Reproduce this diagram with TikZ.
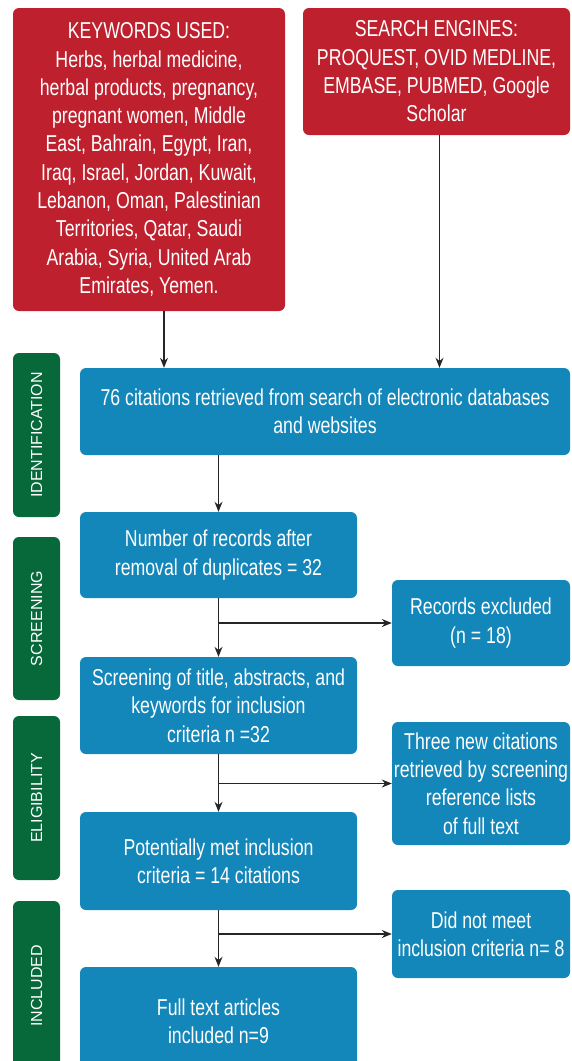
\documentclass[tikz,border=0pt]{standalone}
\usepackage{fontspec}
\setmainfont[FakeStretch=0.77]{Liberation Sans}
\newfontfamily\sidefont{Liberation Sans}
\usetikzlibrary{arrows.meta}

\definecolor{keyred}{HTML}{BE202E}
\definecolor{stepblue}{HTML}{1386BA}
\definecolor{stagegreen}{HTML}{07683A}

\begin{document}
\begin{tikzpicture}[
    x=1pt, y=-1pt,
    box/.style={
      rectangle,
      rounded corners=6pt,
      inner sep=0pt,
      text=white,
      align=center,
      font=\fontsize{23}{28.3}\selectfont
    },
    redbox/.style={box, fill=keyred},
    bluebox/.style={box, fill=stepblue},
    stage/.style={
      rectangle,
      rounded corners=6pt,
      fill=stagegreen,
      text=white,
      rotate=90,
      inner sep=0pt,
      minimum height=47pt,
      font=\sidefont\fontsize{16}{19}\selectfont
    },
    link/.style={draw=black!85, line width=1.2pt},
    >={Stealth[length=10pt,width=8pt]}
  ]

    \useasboundingbox (0,0) rectangle (572,1061);

    % sources
    \node[redbox, minimum width=272pt, minimum height=303pt] (kw) at (149, 159.5)
      {KEYWORDS USED:\\ Herbs, herbal medicine,\\ herbal products, pregnancy,\\
       pregnant women, Middle\\ East, Bahrain, Egypt, Iran,\\ Iraq, Israel, Jordan, Kuwait,\\
       Lebanon, Oman, Palestinian\\ Territories, Qatar, Saudi\\ Arabia, Syria, United Arab\\
       Emirates, Yemen.};
    \node[redbox, minimum width=267pt, minimum height=127pt] (se) at (436.5, 71.5)
      {SEARCH ENGINES:\\ PROQUEST, OVID MEDLINE,\\ EMBASE, PUBMED, Google\\ Scholar};

    % main column
    \node[bluebox, minimum width=490pt, minimum height=87pt] (ident) at (325, 411.5)
      {76 citations retrieved from search of electronic databases\\ and websites};
    \node[bluebox, minimum width=277pt, minimum height=86pt] (dup) at (218.5, 555)
      {Number of records after\\ removal of duplicates = 32};
    \node[bluebox, minimum width=277pt, minimum height=97pt] (scr) at (218.5, 705.5)
      {Screening of title, abstracts, and\\ keywords for inclusion\\ criteria n =32};
    \node[bluebox, minimum width=277pt, minimum height=98pt] (pot) at (218.5, 861)
      {Potentially met inclusion\\ criteria = 14 citations};
    \node[bluebox, minimum width=277pt, minimum height=108pt] (full) at (218.5, 1021)
      {Full text articles\\ included n=9};

    % side column
    \node[bluebox, minimum width=178pt, minimum height=86pt] (excl) at (481, 623)
      {Records excluded\\ (n = 18)};
    \node[bluebox, minimum width=178pt, minimum height=123pt] (new) at (481, 783.5)
      {Three new citations\\ retrieved by screening\\ reference lists\\ of full text};
    \node[bluebox, minimum width=178pt, minimum height=88pt] (notmet) at (481, 934)
      {Did not meet\\ inclusion criteria n= 8};

    % stages
    \node[stage, minimum width=164pt] (sident) at (36.5, 435) {IDENTIFICATION};
    \node[stage, minimum width=163pt] (sscr) at (36.5, 618.5) {SCREENING};
    \node[stage, minimum width=164pt] (selig) at (36.5, 798) {ELIGIBILITY};
    \node[stage, minimum width=170pt] (sincl) at (36.5, 986) {INCLUDED};

    \draw[link, ->] ([xshift=15pt]kw.south) -- ([xshift=15pt]kw.south |- ident.north);
    \draw[link, ->] ([xshift=3pt]se.south) -- ([xshift=3pt]se.south |- ident.north);

    \draw[link, ->] (dup.north |- ident.south) -- (dup.north);
    \draw[link, ->] (dup) -- (scr);
    \draw[link, ->] (scr) -- (pot);
    \draw[link, ->] (pot) -- (full);

    \draw[link, ->] (dup.south |- excl.west) -- (excl.west);
    \draw[link, ->] (scr.south |- new.west) -- (new.west);
    \draw[link, ->] (pot.south |- notmet.west) -- (notmet.west);

  \end{tikzpicture}
\end{document}
